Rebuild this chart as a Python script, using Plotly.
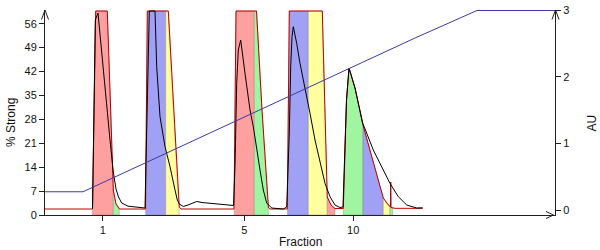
import numpy as np
import plotly.graph_objects as go

# ---- data (volume in ml, UV in AU, gradient in % Strong) ----
volume_red = [0.0, 4.75, 5.07, 6.23, 6.6, 6.83, 7.1, 7.45,
              10.05, 10.23, 12.33, 12.85, 13.43, 13.6,
              18.9, 19.1, 21.15, 21.7, 22.35, 22.5,
              24.23, 24.43, 27.73, 27.98, 28.23, 28.6, 29.0, 29.83,
              29.95, 30.15, 30.4, 31.0, 31.77, 32.7, 33.83, 34.3, 34.55, 34.57, 34.6, 35.0, 37.77]
uv_red = [0.015, 0.015, 2.985, 2.985, 1.35, 0.30, 0.09, 0.015,
          0.015, 2.985, 2.985, 1.5, 0.045, 0.015,
          0.015, 2.985, 2.985, 1.5, 0.03, 0.015,
          0.015, 2.985, 2.985, 1.57, 0.195, 0.075, 0.022, 0.022,
          0.75, 1.65, 2.13, 1.83, 1.29, 0.8, 0.18, 0.08, 0.045, 0.42, 0.037, 0.025, 0.025]

volume_black = [4.75, 5.03, 5.3, 6.0, 6.5, 6.83, 7.1, 7.35, 7.67, 8.3, 10.0,
                10.43, 11.0, 11.17, 11.5, 12.0, 12.5, 13.0, 13.23, 13.43, 13.83, 14.3, 15.17, 15.7, 17.0, 18.85,
                19.0, 19.17, 19.33, 19.57, 20.0, 20.5, 20.83, 21.17, 21.5, 21.83, 22.17, 22.67, 23.83, 24.17,
                24.43, 24.57, 24.7, 24.83, 25.17, 25.5, 26.0, 26.5, 27.0, 27.5, 28.0, 28.5, 29.0, 29.5, 29.8,
                29.95, 30.15, 30.4, 31.0, 31.77, 32.83, 33.83, 34.5, 35.33, 36.17, 37.17, 37.77]
uv_black = [0.015, 2.85, 2.955, 1.8, 1.05, 0.57, 0.315, 0.195, 0.105, 0.057, 0.03,
            2.985, 2.985, 2.15, 1.4, 0.95, 0.65, 0.3, 0.15, 0.09, 0.052, 0.075, 0.128, 0.112, 0.093, 0.068,
            0.65, 1.9, 2.4, 2.55, 2.05, 1.5, 1.25, 0.95, 0.6, 0.3, 0.105, 0.03, 0.015, 0.045,
            1.155, 2.15, 2.6, 2.75, 2.5, 2.2, 1.85, 1.45, 1.05, 0.7, 0.4, 0.2, 0.075, 0.037, 0.045,
            0.75, 1.65, 2.13, 1.83, 1.305, 0.9, 0.6, 0.4, 0.2, 0.075, 0.03, 0.033]

volume_grad = [0.0, 3.8, 37.0, 43.2, 51.0]
strong_pct = [6.8, 6.8, 51.8, 59.85, 59.85]

frac_number = [1, 2, 3, 4, 5, 6, 7, 8, 9, 10, 11, 12, 13]
frac_start = [4.75, 6.83, 10.07, 12.07, 18.93, 20.93, 24.25, 26.33, 28.23, 29.83, 31.8, 33.83, 34.5]
frac_end = [6.83, 7.43, 12.07, 13.43, 20.93, 22.35, 26.33, 28.23, 29.0, 31.8, 33.83, 34.5, 34.77]
frac_color = ['#ffa0a0', '#a0f5a0', '#a0a0f5', '#ffffa0', '#ffa0a0', '#a0f5a0', '#a0a0f5',
              '#ffffa0', '#ffa0a0', '#a0f5a0', '#a0a0f5', '#ffffa0', '#a0f5a0']
labelled_fractions = [1, 5, 10]

AU_RANGE = [-0.075, 3.0]
PCT_RANGE = [0, 60]
VOL_RANGE = [0, 51]

fig = go.Figure()

# fraction fills under the red UV curve
vr = np.array(volume_red)
ur = np.array(uv_red)
for s, e, c in zip(frac_start, frac_end, frac_color):
    inside = (vr > s) & (vr < e)
    xs = [s] + list(vr[inside]) + [e]
    ys = [float(np.interp(s, vr, ur))] + list(ur[inside]) + [float(np.interp(e, vr, ur))]
    xs += [e, s, s]
    ys += [AU_RANGE[0], AU_RANGE[0], ys[0]]
    fig.add_trace(go.Scatter(x=xs, y=ys, mode='lines', fill='toself', fillcolor=c,
                             line=dict(color='rgba(120,120,120,0.6)', width=0.6),
                             yaxis='y', hoverinfo='skip', showlegend=False))

fig.add_trace(go.Scatter(x=volume_red, y=uv_red, mode='lines',
                         line=dict(color='#c00000', width=1), yaxis='y', showlegend=False))
fig.add_trace(go.Scatter(x=volume_black, y=uv_black, mode='lines',
                         line=dict(color='#000000', width=1), yaxis='y', showlegend=False))
fig.add_trace(go.Scatter(x=volume_grad, y=strong_pct, mode='lines',
                         line=dict(color='#3a3aa8', width=1), yaxis='y2', showlegend=False))

centers = [(frac_start[frac_number.index(n)] + frac_end[frac_number.index(n)]) / 2 for n in labelled_fractions]

axis_common = dict(showline=True, linecolor='#202020', linewidth=1, ticks='outside', ticklen=5,
                   tickcolor='#202020', showgrid=False, zeroline=False,
                   tickfont=dict(family='Arial, Liberation Sans, sans-serif', size=11, color='#111'))

fig.update_layout(
    width=600, height=250,
    margin=dict(l=45, r=45, t=10, b=35, autoexpand=False),
    paper_bgcolor='white', plot_bgcolor='white',
    xaxis=dict(range=VOL_RANGE, tickvals=centers, ticktext=[str(n) for n in labelled_fractions],
               **axis_common),
    yaxis=dict(range=AU_RANGE, side='right', tickvals=[0, 1, 2, 3], anchor='x', **axis_common),
    yaxis2=dict(range=PCT_RANGE, side='left', overlaying='y', tick0=0, dtick=7, anchor='x',
                **axis_common),
)

def px(xp):
    return (xp - 45) / 510

def py(yp):
    return (215 - yp) / 205

font_t = dict(family='Arial, Liberation Sans, sans-serif', size=12, color='#111')
fig.add_annotation(text='% Strong', x=px(11), y=py(123), xref='paper', yref='paper',
                   showarrow=False, textangle=-90, font=font_t, xanchor='center', yanchor='middle')
fig.add_annotation(text='AU', x=px(591.5), y=py(123), xref='paper', yref='paper',
                   showarrow=False, textangle=-90, font=font_t, xanchor='center', yanchor='middle')
fig.add_annotation(text='Fraction', x=0.5, y=py(241.5), xref='paper', yref='paper',
                   showarrow=False, font=font_t, xanchor='center', yanchor='middle')

# open arrowheads on axis ends
arrows = [
    [(41.5, 19.5), (45, 10), (48.5, 19.5)],
    [(552, 19.5), (555.5, 10), (559, 19.5)],
    [(546, 211.5), (553.5, 215), (546, 218.5)],
]
for (a, b, c) in arrows:
    for p, q in [(a, b), (b, c)]:
        fig.add_shape(type='line', xref='paper', yref='paper',
                      x0=px(p[0]), y0=py(p[1]), x1=px(q[0]), y1=py(q[1]),
                      line=dict(color='#202020', width=1))

fig.write_html('out.html')
